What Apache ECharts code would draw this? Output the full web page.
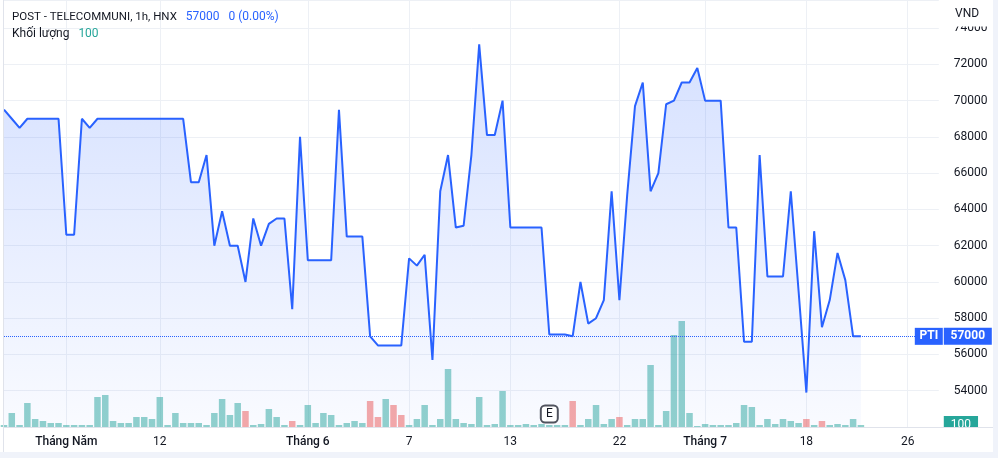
<!DOCTYPE html>
<html><head><meta charset="utf-8">
<script src="https://cdn.jsdelivr.net/npm/echarts@6/dist/echarts.min.js"></script>
<style>html,body{margin:0;padding:0;background:#fff}#c{width:998px;height:458px}</style>
</head><body><div id="c"></div>
<script>
const symbolName = 'POST - TELECOMMUNI, 1h, HNX';
const lastPrice = 57000;
const changeText = '0 (0.00%)';
const volumeName = 'Khối lượng';
const lastVolume = 100;
const currency = 'VND';
const ticker = 'PTI';

const price = [
  69500, 69000, 68500, 69000, 69000, 69000, 69000, 69000, 62600, 62600,
  69000, 68500, 69000, 69000, 69000, 69000, 69000, 69000, 69000, 69000,
  69000, 69000, 69000, 69000, 65500, 65500, 67000, 62000, 63900, 62000,
  62000, 60000, 63500, 62000, 63200, 63500, 63500, 58500, 68000, 61200,
  61200, 61200, 61200, 69500, 62500, 62500, 62500, 57000, 56500, 56500,
  56500, 56500, 61300, 60900, 61500, 55700, 65000, 67000, 63000, 63100,
  67000, 73100, 68100, 68100, 70000, 63000, 63000, 63000, 63000, 63000,
  57100, 57100, 57100, 57000, 60000, 57700, 58000, 59000, 65000, 59000,
  64800, 69700, 71000, 65000, 66000, 69800, 70000, 71000, 71000, 71800,
  70000, 70000, 70000, 63000, 63000, 56700, 56700, 67000, 60300, 60300,
  60300, 65000, 59500, 53900, 62800, 57500, 59000, 61600, 60100, 57000,
  57000
];
const volume = [
  100, 700, 100, 1200, 400, 300, 200, 200, 100, 100,
  100, 100, 1500, 1600, 300, 200, 200, 500, 500, 400,
  1500, 100, 700, 200, 200, 200, 100, 700, 1400, 600,
  1200, 800, 100, 150, 900, 500, 100, 300, 100, 1100,
  200, 700, 600, 100, 200, 300, 200, 1300, 500, 1400,
  1100, 600, 100, 400, 1100, 100, 400, 2900, 400, 200,
  150, 1500, 100, 150, 1800, 100, 100, 150, 100, 150,
  100, 100, 100, 1300, 100, 400, 1100, 150, 400, 500,
  100, 400, 400, 3100, 100, 800, 4600, 5300, 700, 50,
  150, 100, 100, 100, 200, 1100, 1000, 100, 400, 150,
  400, 300, 200, 400, 100, 300, 100, 150, 100, 400,
  100
];
const downBars = [31, 37, 47, 48, 50, 51, 73, 79, 103, 105];
const tickIndex = [8, 20, 39, 52, 65, 79, 90, 103, 116];
const tickLabels = ['Tháng Năm', '12', 'Tháng 6', '7', '13', '22', 'Tháng 7', '18', '26'];
const monthLabels = ['Tháng Năm', 'Tháng 6', 'Tháng 7'];
const slotCount = 121;
const eventMarks = [{ index: 70, text: 'E' }];

const categories = [];
for (let i = 0; i < slotCount; i++) categories.push(String(i));

const FONT = 'Roboto, "Noto Sans", sans-serif';
const chart = echarts.init(document.getElementById('c'), null, { renderer: 'canvas' });

chart.setOption({
  animation: false,
  backgroundColor: '#ffffff',
  textStyle: { fontFamily: FONT },
  title: [
    {
      left: 12, top: 8, padding: 0,
      text: `{n|${symbolName}}  {p|${lastPrice}}  {p|${changeText}}`,
      textStyle: { fontWeight: 'normal', rich: {
        n: { fontSize: 11.5, color: '#131722', fontWeight: 'normal', fontFamily: FONT },
        p: { fontSize: 12, color: '#2962ff', fontWeight: 'normal', fontFamily: FONT }
      } }
    },
    {
      left: 12, top: 25, padding: 0,
      text: `{n|${volumeName}}  {v|${lastVolume}}`,
      textStyle: { fontWeight: 'normal', rich: {
        n: { fontSize: 12, color: '#131722', fontWeight: 'normal', fontFamily: FONT },
        v: { fontSize: 12, color: '#26a69a', fontWeight: 'normal', fontFamily: FONT }
      } }
    }
  ],
  grid: { left: 4, right: 59.2, top: 0, bottom: 31, containLabel: false },
  xAxis: {
    type: 'category',
    data: categories,
    boundaryGap: false,
    axisLine: { show: false },
    axisTick: { show: false },
    axisLabel: {
      interval: (idx) => tickIndex.indexOf(idx) >= 0,
      formatter: (val, idx) => {
        const k = tickIndex.indexOf(Number(val));
        if (k < 0) return '';
        const t = tickLabels[k];
        return monthLabels.indexOf(t) >= 0 ? `{m|${t}}` : `{d|${t}}`;
      },
      margin: 9,
      rich: {
        m: { fontSize: 12, color: '#131722', fontWeight: 500, fontFamily: FONT },
        d: { fontSize: 12, color: '#131722', fontFamily: FONT }
      }
    },
    splitLine: {
      show: true,
      interval: (idx) => tickIndex.indexOf(idx) >= 0,
      lineStyle: { color: '#edf0f5', width: 1 }
    }
  },
  yAxis: [
    {
      type: 'value',
      position: 'right',
      min: 52000, max: 75550, interval: 2000,
      axisLine: { show: false },
      axisTick: { show: false },
      axisLabel: { color: '#131722', fontSize: 12, margin: 15, showMinLabel: false, showMaxLabel: false, fontFamily: FONT,
        formatter: (v) => String(v) },
      splitLine: { show: true, lineStyle: { color: '#edf0f5', width: 1 } }
    },
    {
      type: 'value',
      min: 0, max: 21350,
      show: false,
      splitLine: { show: false }
    }
  ],
  series: [
    {
      type: 'bar',
      yAxisIndex: 1,
      data: volume,
      barWidth: 6.5,
      z: 2,
      itemStyle: {
        color: (p) => downBars.indexOf(p.dataIndex) >= 0 ? 'rgba(239,83,80,0.5)' : 'rgba(38,166,154,0.5)'
      },
      markLine: {
        silent: true, symbol: 'none',
        lineStyle: { color: 'rgba(0,0,0,0)', width: 0 },
        data: [{ yAxis: lastVolume }],
        label: {
          show: true,
          position: 'end', distance: 5,
          formatter: String(lastVolume),
          color: '#ffffff', backgroundColor: '#26a69a', fontSize: 12,
          padding: [3, 7, 3, 7], fontFamily: FONT
        }
      },
      markPoint: {
        silent: true,
        data: eventMarks.map(e => ({ coord: [e.index, 650], value: e.text })),
        symbol: 'roundRect', symbolSize: 17,
        itemStyle: { color: '#ffffff', borderColor: '#50535e', borderWidth: 2 },
        label: { show: true, formatter: (p) => p.value, color: '#131722', fontSize: 12, fontFamily: FONT }
      }
    },
    {
      type: 'line',
      yAxisIndex: 0,
      data: price,
      symbol: 'none',
      z: 4,
      lineStyle: { color: '#2962ff', width: 2 },
      areaStyle: {
        color: new echarts.graphic.LinearGradient(0, 0, 0, 1, [
          { offset: 0, color: 'rgba(41,98,255,0.28)' },
          { offset: 1, color: 'rgba(41,98,255,0.04)' }
        ])
      },
      markLine: {
        silent: true, symbol: 'none',
        lineStyle: { color: '#2962ff', type: 'dotted', width: 1 },
        data: [{ yAxis: lastPrice }],
        label: {
          position: 'end', distance: -24,
          formatter: `{p|${ticker}}{s|}{v|${lastPrice}}`,
          rich: {
            p: { backgroundColor: '#2962ff', color: '#fff', width: 28, height: 17, lineHeight: 17, align: 'center', fontSize: 12, fontWeight: 'bold', fontFamily: FONT },
            s: { width: 1, height: 17 },
            v: { backgroundColor: '#2962ff', color: '#fff', width: 48, height: 17, lineHeight: 17, align: 'center', fontSize: 12, fontWeight: 'bold', fontFamily: FONT }
          }
        }
      }
    }
  ],
  graphic: [
    { type: 'rect', z: 100, shape: { x: 940, y: 427.5, width: 53, height: 25 }, style: { fill: '#ffffff' } },
    { type: 'rect', z: 100, shape: { x: 940, y: 0, width: 53, height: 26.5 }, style: { fill: '#ffffff' } },
    { type: 'text', z: 101, x: 955, y: 8, style: { text: currency, fill: '#131722', font: '12px ' + FONT } },
    { type: 'line', z: 101, shape: { x1: 3, y1: 427.5, x2: 993, y2: 427.5 }, style: { stroke: '#e0e3eb', lineWidth: 1 } },
    { type: 'line', z: 101, shape: { x1: 3.5, y1: 0, x2: 3.5, y2: 452 }, style: { stroke: '#e0e3eb', lineWidth: 1 } },
    { type: 'rect', z: 102, shape: { x: 993, y: 0, width: 5, height: 458 }, style: { fill: '#f0f3fa' } },
    { type: 'rect', z: 102, shape: { x: 0, y: 452, width: 998, height: 6 }, style: { fill: '#f0f3fa' } }
  ]
});
</script></body></html>
